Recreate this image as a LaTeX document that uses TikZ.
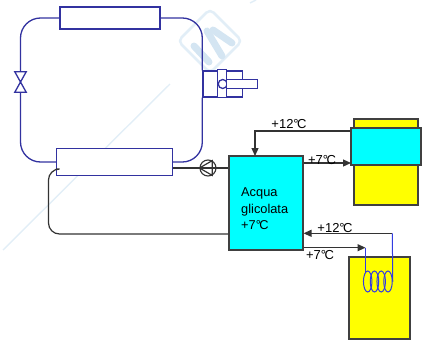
\documentclass[tikz,border=0pt]{standalone}
\usepackage{fontspec}
\setmainfont{Liberation Sans}
\usepackage{xcolor}
\usetikzlibrary{arrows.meta,shapes.geometric}
\definecolor{loopblue}{RGB}{50,50,160}
\definecolor{coilblue}{RGB}{50,60,225}
\definecolor{markblue}{RGB}{226,238,247}
\definecolor{markfill}{RGB}{212,229,242}
\definecolor{tankcyan}{RGB}{0,255,255}
\definecolor{tankyellow}{RGB}{255,255,0}
\newcommand{\gradi}[1]{+#1°\kern-1.5pt C}
\tikzset{
  >={Triangle[length=8pt,width=7pt]},
  loopbox/.style={draw=loopblue,line width=1.3pt,fill=white,inner sep=0pt},
  tankbox/.style={draw=black!75,line width=1.1pt,inner sep=0pt},
  loopline/.style={draw=loopblue,line width=1.3pt},
  waterline/.style={draw=black!80,line width=1.2pt},
  coilturn/.style={ellipse,draw=coilblue,line width=1pt,inner sep=0pt,minimum width=8.5pt,minimum height=21pt},
  templabel/.style={font=\fontsize{13}{15}\selectfont,inner sep=0pt},
}
\begin{document}
\begin{tikzpicture}[x=1pt,y=-1pt]
\useasboundingbox (0,0) rectangle (422,340);

% watermark
\draw[markblue,line width=1.4pt] (170,84) -- (3,250);
\draw[markblue,line width=1.4pt] (256,0) -- (250,3);
\draw[markblue,line width=2.5pt,rounded corners=5pt] (210,9) -- (242,41) -- (210,73) -- (178,41) -- cycle;
\draw[markfill,line width=7pt,line cap=round] (194,46) -- (209,62);
\draw[markfill,line width=7pt,line cap=round] (207,31) -- (222,56);
\draw[markfill,line width=7pt,line cap=round] (213,30) -- (232,43);

% boxes
\node[loopbox,minimum width=100pt,minimum height=22pt] (condenser) at (110,18) {};
\node[loopbox,minimum width=116pt,minimum height=27pt] (evaporator) at (114.5,162) {};
\node[inner sep=0pt,minimum width=11pt,minimum height=20pt] (valve) at (20.5,82) {};
\node[loopbox,minimum width=14.7pt,minimum height=26pt] (compbody) at (210.3,84) {};
\node[loopbox,minimum width=15.6pt,minimum height=26pt] (comphead) at (234.5,84) {};
\node[loopbox,minimum width=9pt,minimum height=28.4pt] (compflange) at (222.2,83.5) {};
\node[loopbox,circle,minimum size=9pt] (compwheel) at (222.7,84) {};
\node[loopbox,minimum width=31pt,minimum height=9.4pt] (compshaft) at (242.2,84) {};
\node[draw=black!80,line width=1.1pt,circle,inner sep=0pt,minimum size=16pt] (pump) at (208,168) {};
\node[tankbox,fill=tankcyan,minimum width=74pt,minimum height=94pt] (chiller) at (266,203) {};
\node[tankbox,fill=tankyellow,minimum width=64pt,minimum height=86pt] (fancoil) at (386,162) {};
\node[tankbox,fill=tankcyan,minimum width=70pt,minimum height=37pt] (jacket) at (386,146.5) {};
\node[tankbox,fill=tankyellow,minimum width=61pt,minimum height=82pt] (tank) at (379.5,298) {};
\foreach \i/\cx in {1/367.7,2/374.5,3/381.2,4/388}
  \node[coilturn] (coil\i) at (\cx,281.5) {};

\coordinate (coilout) at (392.3,233.3);
\coordinate (coilin) at (365.5,247.7);
\coordinate (jacketin) at (351,163);

% refrigerant loop
\draw[loopline,rounded corners=20pt] (condenser.east) -| (compbody.north west);
\draw[loopline,rounded corners=20pt] (compbody.south west) |- (evaporator.east);
\draw[loopline,rounded corners=20pt] (evaporator.west) -| (valve.south);
\draw[loopline,rounded corners=20pt] (valve.north) |- (condenser.west);
\draw[loopline] (valve.north west) -- (valve.north east) -- (valve.south west) -- (valve.south east) -- cycle;

% water circuit
\draw[waterline] (evaporator.east |- pump) -- (pump.east);
\draw[waterline] (pump.west) -- (chiller.west |- pump);
\draw[waterline] (pump.180) -- (pump.60) -- (pump.-60) -- cycle;
\draw[waterline,rounded corners=11pt] (chiller.west |- 0,234) -| (48.5,169) -- (evaporator.west |- 0,169);
\draw[waterline,->] (jacket.west |- 0,131) -| (255,156);
\draw[waterline,->] (chiller.east |- jacketin) -- (jacketin);
\draw[waterline,->] (coilout) -- (chiller.east |- coilout);
\draw[waterline,->] (chiller.east |- coilin) -- (coilin);

% coil connections
\draw[coilblue,line width=1pt] (coilout) -- (coil4.east);
\draw[coilblue,line width=1pt] (coilin) -- (coilin |- coil1.110);

% labels
\node[templabel] (t12a) at (289,124) {\gradi{12}};
\node[templabel] (t7a) at (322,160) {\gradi{7}};
\node[templabel] (t12b) at (335,228) {\gradi{12}};
\node[templabel] (t7b) at (320,255) {\gradi{7}};
\node[font=\fontsize{12.8}{16.5}\selectfont,align=left,anchor=north west,inner sep=0pt] (acqua) at (241,187.5) {Acqua\\glicolata\\\gradi{7}};
\end{tikzpicture}
\end{document}
